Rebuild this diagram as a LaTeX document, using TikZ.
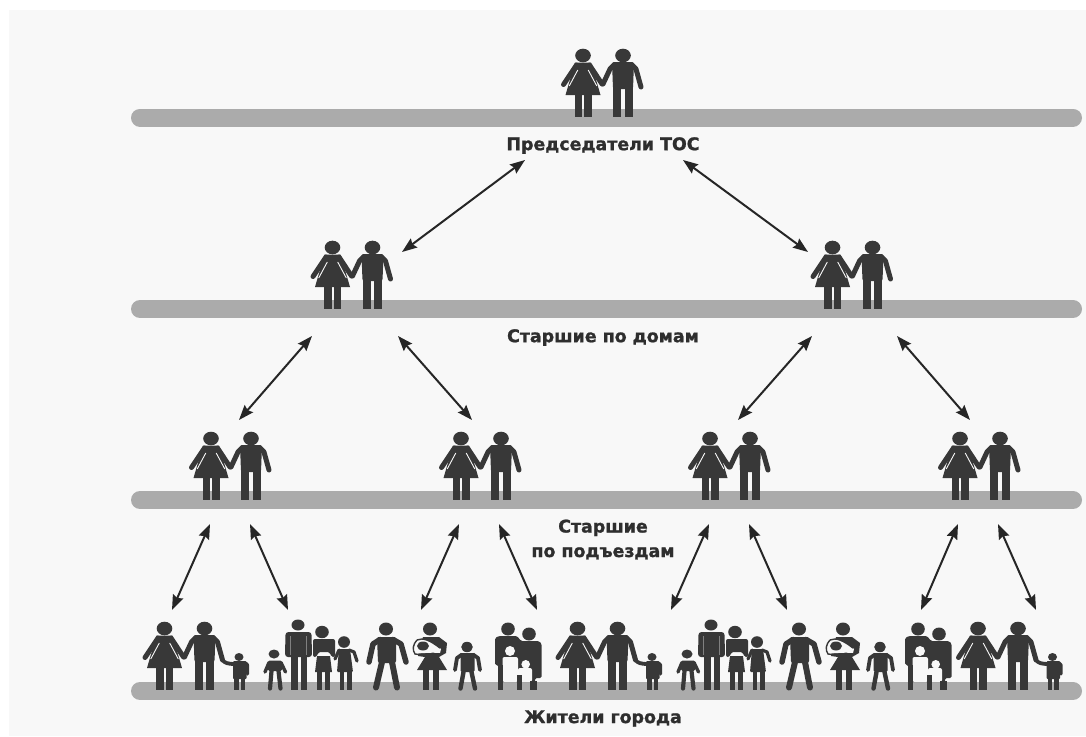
\documentclass[tikz,border=0pt]{standalone}
\usepackage{fontspec}
\setmainfont{DejaVu Sans}[BoldFeatures={FakeBold=1.2}]
\usetikzlibrary{arrows.meta}
\definecolor{figc}{HTML}{383838}
\definecolor{barc}{HTML}{ABABAB}
\definecolor{bgc}{HTML}{F8F8F8}
\tikzset{
  x=1pt,y=-1pt,
  fig/.style={fill=figc,draw=none},
  limb/.style={draw=figc,line width=#1,line cap=round,line join=round},
  limb/.default=5,
  slit/.style={draw=bgc,line width=0.9},
  hole/.style={fill=bgc,draw=none},
  bar/.style={draw=barc,line width=18,line cap=round},
  lbl/.style={font=\bfseries\fontsize{17.4}{24.5}\selectfont,text=black!82,inner sep=0,align=center},
  link/.style={draw=black!85,line width=2,{Stealth[length=15pt,width=11pt,inset=2pt]}-{Stealth[length=15pt,width=11pt,inset=2pt]}},
  couple/.pic={
    % woman
    \fill[fig] (-20,-61.5) ellipse (7.8 and 6.8);
    \fill[fig] (-28,-54.5) -- (-12,-54.5) -- (-2.5,-22) -- (-37.5,-22) -- cycle;
    \draw[limb] (-26.5,-52) -- (-39.5,-32.5);
    \draw[limb] (-13.5,-52) -- (-1,-33);
    \draw[slit] (-25.2,-47) -- (-33.8,-31);
    \draw[slit] (-14.8,-47) -- (-6.2,-31);
    \fill[fig] (-28.5,-23) rectangle (-21,0);
    \fill[fig] (-19,-23) rectangle (-11.5,0);
    % man
    \fill[fig] (20,-61.5) ellipse (7.8 and 6.8);
    \fill[fig,rounded corners=2] (9,-55) -- (31,-55) -- (30,-28) -- (10,-28) -- cycle;
    \draw[limb] (11,-52) -- (7,-48) -- (0,-33);
    \draw[limb] (29,-52) -- (33,-48) -- (38,-30);
    \fill[fig] (10,-31) rectangle (18,0);
    \fill[fig] (21.5,-31) rectangle (29.5,0);
  },
  famone/.pic={
    \pic at (0,0) {couple};
    \draw[limb=3.8] (38,-30) .. controls (40,-27) and (44,-26) .. (50,-26);
    \fill[fig] (54.5,-33) ellipse (4.5 and 4);
    \fill[fig,rounded corners=1] (48.5,-29) rectangle (62,-11);
    \draw[limb=3.2] (61,-27) -- (63,-25) -- (63,-16);
    \fill[fig] (49.5,-12) rectangle (54,0);
    \fill[fig] (56,-12) rectangle (60.5,0);
  },
  famtwo/.pic={
    % boy
    \fill[fig] (-1,-36) ellipse (5.5 and 4.5);
    \fill[fig,rounded corners=1.5] (-7,-29.5) -- (7,-29.5) -- (7,-19) -- (-7,-19) -- cycle;
    \draw[limb=3.4] (-6,-27.5) -- (-10,-18);
    \draw[limb=3.4] (6,-27.5) -- (10.5,-18);
    \draw[limb=4.2] (-3.5,-19) -- (-5,-1.5);
    \draw[limb=4.2] (3.5,-19) -- (5.5,-1.5);
    % suit man
    \fill[fig] (23,-65) ellipse (6.5 and 5.5);
    \fill[fig,rounded corners=3] (10.5,-58) -- (36.5,-58) -- (37,-33) -- (10,-33) -- cycle;
    \draw[draw=gray,line width=0.9] (15.5,-54) -- (15.5,-35);
    \draw[draw=gray,line width=0.9] (31.5,-54) -- (31.5,-35);
    \fill[fig] (16,-34) rectangle (22.5,0);
    \fill[fig] (25.5,-34) rectangle (32,0);
    % woman
    \fill[fig] (47,-58) ellipse (6.8 and 6.2);
    \fill[fig,rounded corners=2] (38,-51) -- (60,-51) -- (60,-33) -- (56,-33) -- (55,-38) -- (43,-38) -- (42,-33) -- (38,-33) -- cycle;
    \fill[fig] (42,-34) -- (55,-34) -- (57,-18) -- (40,-18) -- cycle;
    \fill[fig] (42,-18) rectangle (46.5,0);
    \fill[fig] (50,-18) rectangle (54.5,0);
    % girl
    \fill[fig] (69,-48) ellipse (6 and 5.8);
    \fill[fig,rounded corners=1] (64,-41) -- (75,-41) -- (78,-18) -- (62,-18) -- cycle;
    \draw[limb=3.2] (74,-40) -- (79,-38) -- (82,-29);
    \draw[limb=3.2] (64,-40) -- (60,-31);
    \fill[fig] (65,-18) rectangle (69,0);
    \fill[fig] (72,-18) rectangle (76.5,0);
  },
  famthree/.pic={
    % man
    \fill[fig] (-1,-61) ellipse (7 and 6.5);
    \fill[fig,rounded corners=2] (-10,-53) -- (9,-53) -- (9,-27) -- (-9,-27) -- cycle;
    \draw[limb=5.5] (-7,-50.5) -- (-14,-46) -- (-18,-28);
    \draw[limb=5.5] (6,-50.5) -- (14,-46) -- (19,-28);
    \draw[limb=6] (-5,-28) -- (-11,-2.5);
    \draw[limb=6] (5,-28) -- (10,-2.5);
    % woman with baby
    \fill[fig] (43,-61) ellipse (7 and 6.5);
    \fill[fig] (36,-53) -- (52,-53) -- (60,-47) -- (59,-37) -- (52,-33) -- (60,-20) -- (30,-20) -- (38,-33) -- (31,-34) -- cycle;
    \fill[hole] (30,-50) .. controls (36,-53) and (44,-49) .. (54,-41) -- (53,-37) .. controls (42,-38) and (33,-36) .. (28,-37) -- cycle;
    \draw[draw=figc,line width=1.4] (30,-50) .. controls (26,-46) and (25,-40) .. (28,-36) -- (52,-33);
    \draw[draw=figc,line width=1.4] (30,-50) .. controls (36,-53) and (44,-49) .. (53,-42);
    \fill[fig] (36,-44) ellipse (6 and 4.5);
    \fill[fig] (36,-20) rectangle (41.5,0);
    \fill[fig] (46,-20) rectangle (51.5,0);
    % child
    \fill[fig] (80,-43) ellipse (5.8 and 5.2);
    \fill[fig,rounded corners=1.5] (73.5,-37) -- (87.5,-37) -- (87.5,-18) -- (73.5,-18) -- cycle;
    \draw[limb=3.8] (75,-35.5) -- (70,-32) -- (68,-20);
    \draw[limb=3.8] (86,-35.5) -- (91,-32) -- (93,-20);
    \draw[limb=4.4] (76.5,-18) -- (73.5,-1.5);
    \draw[limb=4.4] (84.5,-18) -- (88,-1.5);
  },
  famfour/.pic={
    \fill[fig] (0,-61) ellipse (6.8 and 6.5);
    \fill[fig] (21,-56) ellipse (6.8 and 6.5);
    \fill[fig,rounded corners=1.5] (-13,-52) -- (-9,-54) -- (9,-54) -- (13,-49) -- (31,-49) -- (33.7,-46) -- (33.7,-12) -- (27,-12) -- (27,-8) -- (-9.7,-8) -- (-9.7,-25) -- (-13,-25) -- cycle;
    \fill[hole,rounded corners=2] (-5.5,-33) -- (10,-33) -- (10,-8) -- (-5.5,-8) -- cycle;
    \fill[hole] (2,-39) circle (5);
    \fill[hole,rounded corners=2] (10,-22) -- (24,-22) -- (24,-8) -- (10,-8) -- cycle;
    \fill[hole] (17.7,-25.7) circle (4.3);
    \fill[fig] (-9.7,-25) rectangle (-4.7,0);
    \fill[fig] (8.7,-15) rectangle (14.3,0);
    \fill[fig] (22,-9) rectangle (29,0);
  }
}
\begin{document}
\begin{tikzpicture}
\useasboundingbox (0,0) rectangle (1086,736);
\fill[white] (0,0) rectangle (1086,736);
\fill[bgc] (9,10) rectangle (1086,736);
% bars
\foreach \y in {117.5,309,500,691} \draw[bar] (140,\y) -- (1073,\y);
% couples
\pic at (603,117) {couple};
\pic at (352.5,309) {couple};
\pic at (852.5,309) {couple};
\pic at (231,500) {couple};
\pic at (481,500) {couple};
\pic at (730,500) {couple};
\pic at (980,500) {couple};
% residents
\pic at (184.5,690) {famone};
\pic at (275,690) {famtwo};
\pic at (387,690) {famthree};
\pic at (508,690) {famfour};
\pic at (597.5,690) {famone};
\pic at (688,690) {famtwo};
\pic at (800,690) {famthree};
\pic at (918,690) {famfour};
\pic at (998,690) {famone};
% labels
\node[lbl] (lt) at (603,145.5) {Председатели ТОС};
\node[lbl] (lh) at (603,337.5) {Старшие по домам};
\node[lbl] (le) at (603,539.5) {Старшие\\по подъездам};
\node[lbl] (lc) at (603,718.5) {Жители города};
% connector ends
\coordinate (a1) at (525,160); \coordinate (a2) at (402,252);
\coordinate (b1) at (683,160); \coordinate (b2) at (808,252);
\coordinate (c1) at (312,336); \coordinate (c2) at (239,420);
\coordinate (d1) at (398,336); \coordinate (d2) at (472,420);
\coordinate (e1) at (812,336); \coordinate (e2) at (738,420);
\coordinate (f1) at (897,336); \coordinate (f2) at (970,420);
\coordinate (g1) at (210,524); \coordinate (g2) at (172,610);
\coordinate (h1) at (250,524); \coordinate (h2) at (288,610);
\coordinate (i1) at (459,524); \coordinate (i2) at (421,610);
\coordinate (j1) at (499,524); \coordinate (j2) at (537,610);
\coordinate (k1) at (709,524); \coordinate (k2) at (671,610);
\coordinate (l1) at (749,524); \coordinate (l2) at (787,610);
\coordinate (m1) at (958,524); \coordinate (m2) at (921,610);
\coordinate (n1) at (998,524); \coordinate (n2) at (1036,610);
\foreach \p in {a,b,c,d,e,f,g,h,i,j,k,l,m,n} \draw[link] (\p1) -- (\p2);
\end{tikzpicture}
\end{document}
